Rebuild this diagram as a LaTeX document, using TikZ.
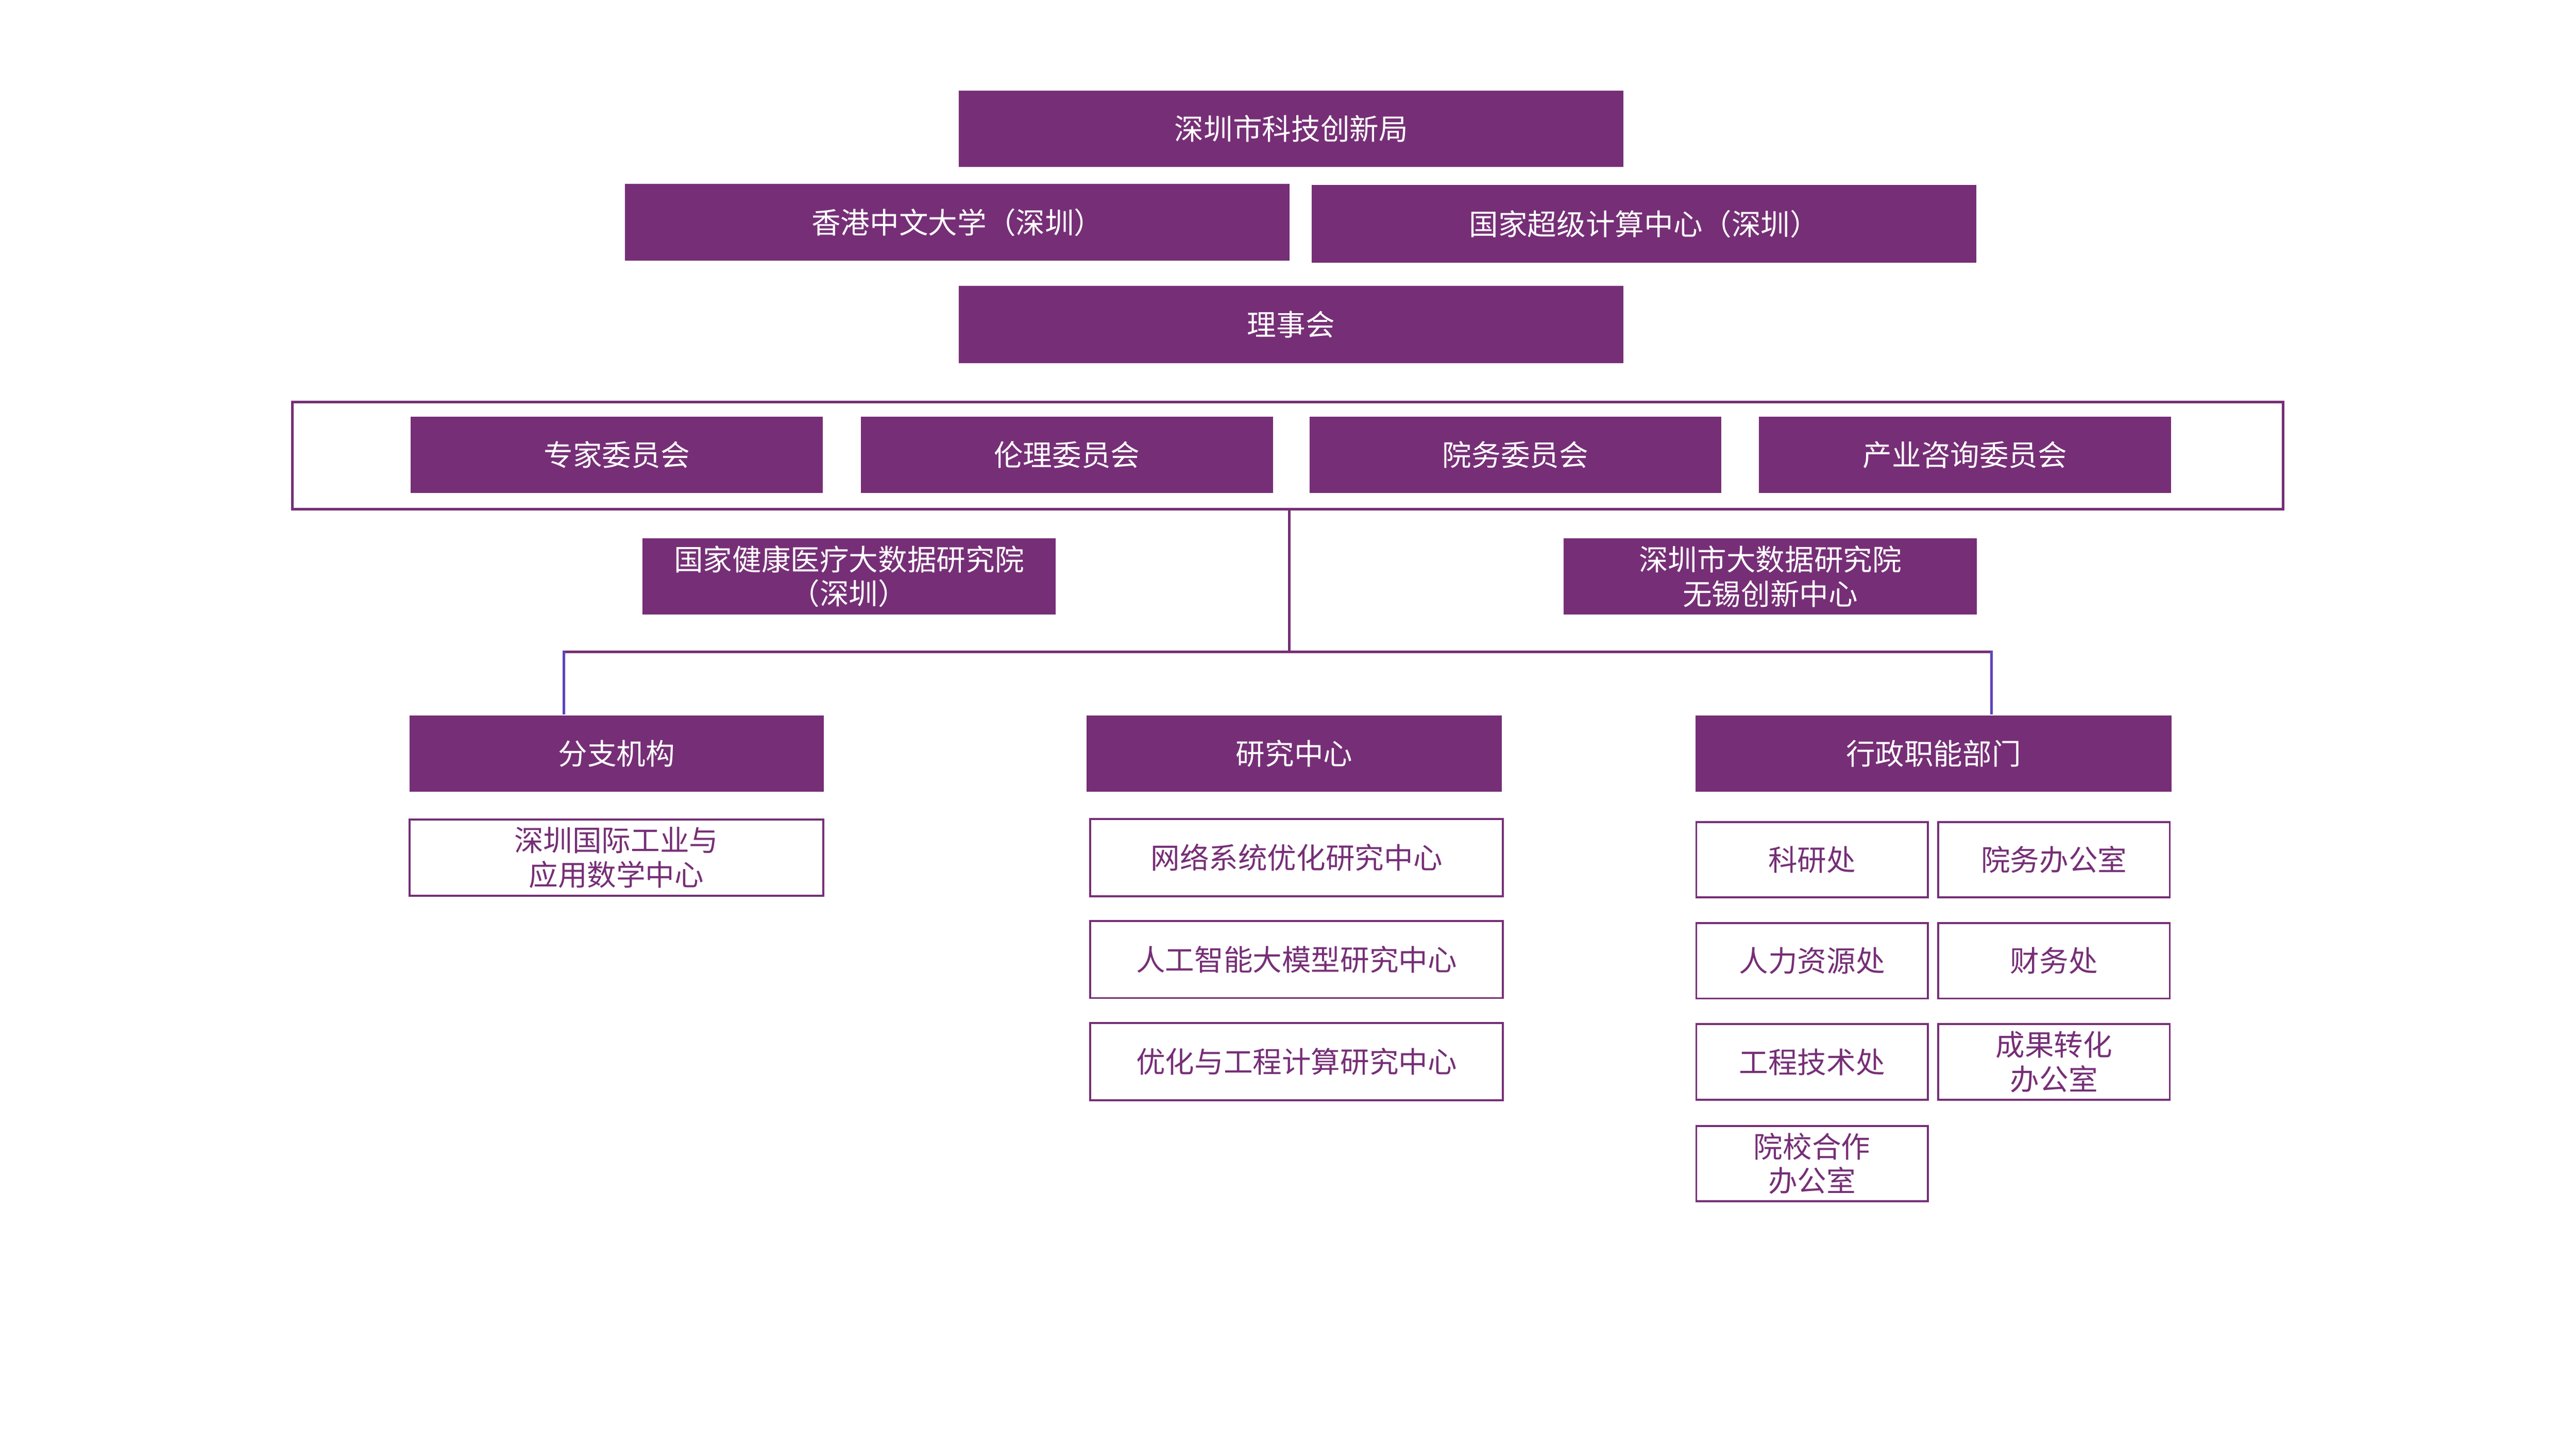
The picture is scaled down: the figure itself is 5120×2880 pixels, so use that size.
\documentclass[tikz,border=0pt]{standalone}
\usepackage{fontspec}
\newfontfamily\cjk{Noto Sans CJK SC}
\usetikzlibrary{positioning}
\definecolor{orgpurple}{RGB}{118,47,118}
\definecolor{dropblue}{RGB}{92,70,186}

\begin{document}
\begin{tikzpicture}[
    x=0.05mm, y=-0.05mm,
    every node/.style={font=\cjk\fontsize{8.25}{9.7}\selectfont, inner sep=0pt, align=center},
    fillbox/.style={fill=orgpurple, text=white, minimum height=7.6mm},
    widebox/.style={fillbox, minimum width=66.05mm},
    unitbox/.style={fillbox, minimum width=40.95mm},
    linebox/.style={draw=orgpurple, line width=0.2mm, text=orgpurple, minimum width=41mm, minimum height=7.65mm},
    office/.style={linebox, minimum width=23mm, minimum height=7.5mm},
    link/.style={draw=orgpurple, line width=0.25mm},
    drop/.style={draw=dropblue, line width=0.25mm}
  ]
    \fill[white] (0,0) rectangle (5120,2880);

    % governing bodies
    \node[widebox] (bureau) at (2566.5,256) {深圳市科技创新局};
    \node[widebox] (cuhk)   at (1903,442) {香港中文大学（深圳）};
    \node[widebox, minimum height=7.7mm] (nscc)  at (3268,445) {国家超级计算中心（深圳）};
    \node[widebox, minimum height=7.7mm] (board) at (2566,645) {理事会};

    % committees
    \node[draw=orgpurple, line width=0.25mm, minimum width=197.8mm, minimum height=10.65mm] (council) at (2559.5,906) {};
    \node[unitbox] (expert)   at (1226,904)   {专家委员会};
    \node[unitbox] (ethics)   at (2120.5,904) {伦理委员会};
    \node[unitbox] (affairs)  at (3012,904)   {院务委员会};
    \node[unitbox] (industry) at (3905.5,904) {产业咨询委员会};

    % institutes
    \node[unitbox, minimum width=41.05mm] (health) at (1687.5,1146) {国家健康医疗大数据研究院\\（深圳）};
    \node[unitbox, minimum width=41.05mm] (wuxi)   at (3518.5,1146) {深圳市大数据研究院\\无锡创新中心};

    % divisions
    \node[fillbox, minimum width=41.15mm] (branch)   at (1225.5,1498) {分支机构};
    \node[fillbox, minimum width=41.25mm] (research) at (2572.5,1498) {研究中心};
    \node[fillbox, minimum width=47.3mm]  (admin)    at (3843,1498)   {行政职能部门};

    % branch and research centres
    \node[linebox, minimum width=41.1mm, minimum height=7.6mm] (math) at (1225,1705) {深圳国际工业与\\应用数学中心};
    \node[linebox] (netopt) at (2577,1705)   {网络系统优化研究中心};
    \node[linebox] (llm)    at (2577,1907.5) {人工智能大模型研究中心};
    \node[linebox] (optcmp) at (2577,2110.5) {优化与工程计算研究中心};

    % offices
    \node[office] (sci)  at (3601.5,1709) {科研处};
    \node[office] (gen)  at (4082.5,1709) {院务办公室};
    \node[office] (hr)   at (3601.5,1910) {人力资源处};
    \node[office] (fin)  at (4082.5,1910) {财务处};
    \node[office] (eng)  at (3601.5,2111) {工程技术处};
    \node[office] (tech) at (4082.5,2111) {成果转化\\办公室};
    \node[office] (coop) at (3601.5,2313) {院校合作\\办公室};

    % connectors
    \coordinate (hub) at (2562.5,1295.5);
    \coordinate (lj)  at (1120.5,1295.5);
    \coordinate (rj)  at (3958.5,1295.5);
    \draw[link] (council.south -| hub) -- (hub);
    \draw[link] (lj) -- (rj);
    \draw[drop, shorten <=-0.125mm] (lj) -- (lj |- branch.north);
    \draw[drop, shorten <=-0.125mm] (rj) -- (rj |- admin.north);
  \end{tikzpicture}
\end{document}
